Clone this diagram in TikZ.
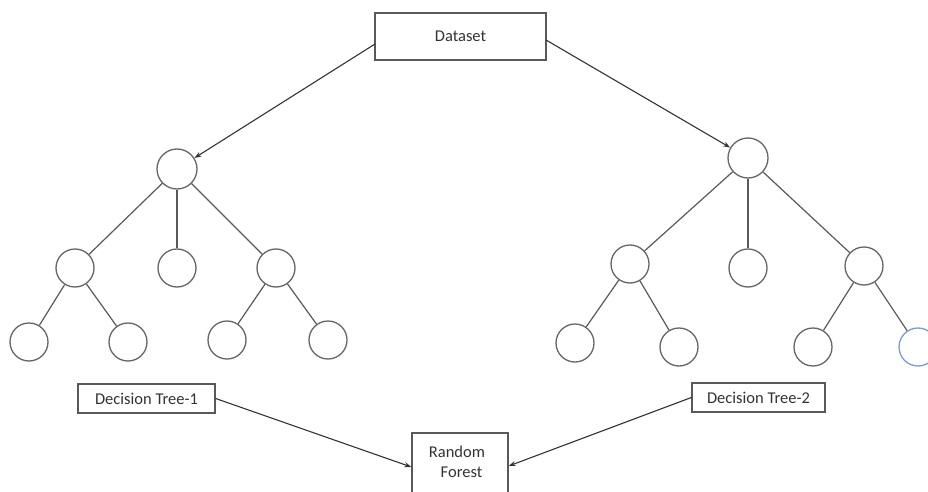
\documentclass[tikz,border=0pt]{standalone}
\usepackage{fontspec}
\setmainfont{Carlito}
\usetikzlibrary{arrows.meta}
\definecolor{leafblue}{RGB}{125,155,205}
\begin{document}
\begin{tikzpicture}[x=1pt,y=-1pt,
  circ/.style={circle,draw=black!60,line width=1.3pt,minimum size=38pt,inner sep=0pt},
  bcirc/.style={circle,draw=leafblue,line width=1.3pt,minimum size=38pt,inner sep=0pt},
  box/.style={draw=black!65,line width=1.3pt,fill=white,font=\fontsize{16.5}{20}\selectfont,text=black!80,inner sep=0pt},
  txt/.style={font=\fontsize{16.5}{20}\selectfont,text=black!80,inner sep=0pt,align=center},
  edge/.style={draw=black!65,line width=1.2pt},
  arr/.style={draw=black!80,line width=1.1pt,-{Stealth[length=7pt,width=5pt]}}]
\useasboundingbox (0,0) rectangle (928,492);
% boxes
\node[box,minimum width=171pt,minimum height=47pt] (ds) at (460.5,36.5) {Dataset};
\node[box,minimum width=137pt,minimum height=29pt] (dt1) at (146.5,398.5) {Decision Tree-1};
\node[box,minimum width=133pt,minimum height=29pt] (dt2) at (758.5,397.5) {Decision Tree-2};
\node[box,minimum width=96pt,minimum height=70pt] (rf) at (460,468) {};
\node[txt] (rft) at (457,462) {Random\\\hspace*{9pt}Forest};
% left tree
\node[circ,minimum size=40pt] (lr) at (177,169) {};
\node[circ] (la) at (75,268) {};
\node[circ] (lb) at (177,268) {};
\node[circ] (lc) at (276,268) {};
\node[circ] (la1) at (29,342) {};
\node[circ] (la2) at (128,342) {};
\node[circ] (lc1) at (227,340) {};
\node[circ] (lc2) at (328,340) {};
% right tree
\node[circ,minimum size=40pt] (rr) at (748,158) {};
\node[circ] (ra) at (630,264) {};
\node[circ] (rb) at (748,268) {};
\node[circ] (rc) at (864,266) {};
\node[circ] (ra1) at (575,343) {};
\node[circ] (ra2) at (679,347) {};
\node[circ] (rc1) at (813,347) {};
\node[bcirc] (rc2) at (918,347) {};
% tree edges
\foreach \a/\b in {lr/la,lr/lb,lr/lc,la/la1,la/la2,lc/lc1,lc/lc2,rr/ra,rr/rb,rr/rc,ra/ra1,ra/ra2,rc/rc1,rc/rc2}
  \path[edge] (\a) -- (\b);
% arrows
\coordinate (dsl) at (375,44);
\coordinate (dsr) at (546,40);
\draw[arr] (dsl) -- (lr);
\draw[arr] (dsr) -- (rr);
\draw[arr] (dt1.east) -- (rf.west |- 0,467);
\draw[arr] (dt2.west) -- (rf.east |- 0,466);
\end{tikzpicture}
\end{document}
